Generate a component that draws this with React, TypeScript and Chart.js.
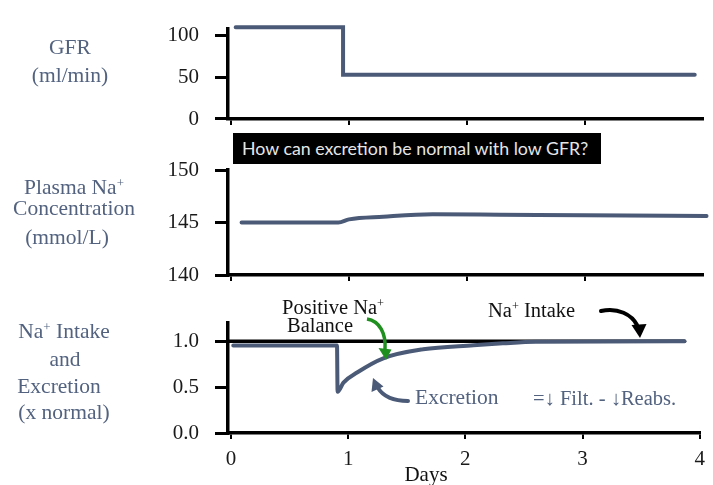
import React, { useEffect, useRef } from 'react';
import { Chart, registerables } from 'chart.js';

Chart.register(...registerables);

// ---- data ----
const xMin = -0.025;
const xMax = 4;
const upperDayTicks = [0, 1, 2, 3];
const dayTicks = [0, 1, 2, 3, 4];

const gfrDays = [0.04, 0.95, 0.95, 3.93];
const gfrValues = [110, 110, 53, 53];
const gfrTicks = [0, 50, 100];

const naDays = [0.09, 0.91, 1.0, 1.29, 1.71, 2.28, 3.0, 4.03];
const naValues = [145.0, 145.0, 145.3, 145.55, 145.78, 145.74, 145.68, 145.62];
const naTicks = [140, 145, 150];

const excretionDays = [0.02, 0.905, 0.91, 0.96, 1.08, 1.3, 1.64, 2.07, 2.32, 2.6, 3.87];
const excretionValues = [0.955, 0.955, 0.45, 0.55, 0.663, 0.815, 0.913, 0.957, 0.978, 0.995, 1.0];
const intakeDays = [-0.025, 3.87];
const intakeValues = [1, 1];
const ratioTicks = [0, 0.5, 1.0];

// ---- styles ----
const SERIF = "'Liberation Serif', 'Times New Roman', serif";
const SLATE = '#4b5a77';
const LABEL = '#52627f';
const W = 713;
const H = 485;

const zip = (xs: number[], ys: number[]) => xs.map((x, i) => ({ x, y: ys[i] }));

type PanelCfg = {
  datasets: any[];
  yMin: number;
  yMax: number;
  yTicks: number[];
  yFmt: (v: number) => string;
  xTicks: number[];
  showXLabels: boolean;
  padTop: number;
  padBottom: number;
  xHeight: number;
};

function makeConfig(p: PanelCfg): any {
  return {
    type: 'line',
    data: { datasets: p.datasets },
    options: {
      responsive: false,
      animation: false,
      events: [],
      layout: { padding: { left: 0, right: 10, top: p.padTop, bottom: p.padBottom } },
      plugins: { legend: { display: false }, tooltip: { enabled: false }, title: { display: false } },
      elements: { point: { radius: 0 } },
      scales: {
        x: {
          type: 'linear',
          min: xMin,
          max: xMax,
          afterBuildTicks: (s: any) => {
            s.ticks = p.xTicks.map((v) => ({ value: v }));
          },
          afterFit: (s: any) => {
            s.height = p.xHeight;
          },
          grid: { drawOnChartArea: false, drawTicks: true, tickLength: 6, color: '#000', lineWidth: 2 },
          border: { display: true, color: '#000', width: 3.5 },
          ticks: {
            display: p.showXLabels,
            padding: 8,
            color: '#1a1a1a',
            font: { family: SERIF, size: 21 },
            callback: (v: any) => String(v),
          },
        },
        y: {
          type: 'linear',
          min: p.yMin,
          max: p.yMax,
          afterBuildTicks: (s: any) => {
            s.ticks = p.yTicks.map((v) => ({ value: v }));
          },
          afterFit: (s: any) => {
            s.width = 228;
          },
          grid: { drawOnChartArea: false, drawTicks: true, tickLength: 13, color: '#000', lineWidth: 3 },
          border: { display: true, color: '#000', width: 3.5 },
          ticks: {
            padding: 16,
            color: '#1a1a1a',
            font: { family: SERIF, size: 21 },
            callback: (v: any) => p.yFmt(Number(v)),
          },
        },
      },
    },
  };
}

function Panel({ cfg }: { cfg: PanelCfg }) {
  const ref = useRef<HTMLCanvasElement | null>(null);
  useEffect(() => {
    if (!ref.current) return;
    const chart = new Chart(ref.current, makeConfig(cfg));
    return () => chart.destroy();
  }, []);
  return (
    <canvas
      ref={ref}
      width={W}
      height={H}
      style={{ position: 'absolute', left: 0, top: 0, width: W, height: H }}
    />
  );
}

const lineStyle = {
  borderColor: SLATE,
  borderWidth: 4,
  fill: false,
  pointRadius: 0,
  clip: false,
  borderCapStyle: 'round',
};

const gfrPanel: PanelCfg = {
  datasets: [{ ...lineStyle, data: zip(gfrDays, gfrValues), tension: 0, borderJoinStyle: 'miter' }],
  yMin: 0,
  yMax: 108.5,
  yTicks: gfrTicks,
  yFmt: (v) => String(v),
  xTicks: upperDayTicks,
  showXLabels: false,
  padTop: 16,
  padBottom: 346,
  xHeight: 20,
};

const naPanel: PanelCfg = {
  datasets: [{ ...lineStyle, data: zip(naDays, naValues), cubicInterpolationMode: 'monotone' }],
  yMin: 140,
  yMax: 150,
  yTicks: naTicks,
  yFmt: (v) => String(v),
  xTicks: upperDayTicks,
  showXLabels: false,
  padTop: 170,
  padBottom: 190,
  xHeight: 20,
};

const ratioPanel: PanelCfg = {
  datasets: [
    {
      ...lineStyle,
      data: zip(excretionDays, excretionValues),
      cubicInterpolationMode: 'monotone',
      order: 0,
    },
    {
      ...lineStyle,
      borderColor: '#000',
      borderWidth: 3.5,
      data: zip(intakeDays, intakeValues),
      tension: 0,
      order: 1,
    },
  ],
  yMin: 0,
  yMax: 1.2,
  yTicks: ratioTicks,
  yFmt: (v) => v.toFixed(1),
  xTicks: dayTicks,
  showXLabels: true,
  padTop: 323,
  padBottom: 12,
  xHeight: 40,
};

function Txt({
  x,
  y,
  children,
  color = LABEL,
  size = 21.5,
  align = 'center',
}: {
  x: number;
  y: number;
  children: any;
  color?: string;
  size?: number;
  align?: 'center' | 'left';
}) {
  return (
    <div
      style={{
        position: 'absolute',
        left: x,
        top: y,
        transform: align === 'center' ? 'translate(-50%, -50%)' : 'translate(0, -50%)',
        fontFamily: SERIF,
        fontSize: size,
        lineHeight: 1,
        color,
        whiteSpace: 'nowrap',
      }}
    >
      {children}
    </div>
  );
}

const Sup = () => <sup style={{ fontSize: '0.6em', verticalAlign: '0.55em', lineHeight: 0 }}>+</sup>;

export default function App() {
  return (
    <div
      style={{
        position: 'fixed',
        left: 0,
        top: 0,
        width: W,
        height: H,
        background: '#fff',
        overflow: 'hidden',
      }}
    >
      <Panel cfg={gfrPanel} />
      <Panel cfg={naPanel} />
      <Panel cfg={ratioPanel} />

      {/* left axis titles */}
      <Txt x={70} y={48}>GFR</Txt>
      <Txt x={70} y={76}>(ml/min)</Txt>
      <Txt x={74} y={188}>
        Plasma Na<Sup />
      </Txt>
      <Txt x={74} y={209}>Concentration</Txt>
      <Txt x={67} y={238}>(mmol/L)</Txt>
      <Txt x={64} y={332}>
        Na<Sup /> Intake
      </Txt>
      <Txt x={65} y={360}>and</Txt>
      <Txt x={59} y={387}>Excretion</Txt>
      <Txt x={64} y={413}>(x normal)</Txt>

      {/* question box */}
      <div
        style={{
          position: 'absolute',
          left: 233,
          top: 133,
          width: 368,
          height: 31,
          background: '#000',
          color: '#e6e6e6',
          fontFamily: "Lato, 'Open Sans', sans-serif",
          fontSize: 17.8,
          lineHeight: '31px',
          paddingLeft: 9,
          boxSizing: 'border-box',
          whiteSpace: 'nowrap',
        }}
      >
        How can excretion be normal with low GFR?
      </div>

      {/* annotations */}
      <Txt x={282} y={307} align="left" color="#111" size={20.5}>
        Positive Na<Sup />
      </Txt>
      <Txt x={287} y={325} align="left" color="#111" size={20.5}>
        Balance
      </Txt>
      <Txt x={488} y={310} align="left" color="#111" size={20.5}>
        Na<Sup /> Intake
      </Txt>
      <Txt x={415} y={398} align="left" color={LABEL} size={21.5}>
        Excretion
      </Txt>
      <Txt x={533} y={398} align="left" color={LABEL} size={20.5}>
        =↓ Filt. - ↓Reabs.
      </Txt>
      <Txt x={426} y={474} color="#111" size={21}>
        Days
      </Txt>

      <svg width={W} height={H} style={{ position: 'absolute', left: 0, top: 0 }}>
        <path d="M 367 319 C 380 321, 386 334, 385 349" stroke="#1f8f1f" strokeWidth={3.5} fill="none" />
        <polygon points="386,360 378.5,348 391.5,349.5" fill="#1f8f1f" />
        <path d="M 601 311 C 618 307, 632 315, 637 325" stroke="#000" strokeWidth={4} fill="none" strokeLinecap="round" />
        <polygon points="640,338 631.5,325 646.5,324" fill="#000" />
        <path d="M 408 401 C 393 401, 383 396, 378 388" stroke={SLATE} strokeWidth={4} fill="none" strokeLinecap="round" />
        <polygon points="373,378 383.5,386.5 371.5,392" fill={SLATE} />
      </svg>
    </div>
  );
}
